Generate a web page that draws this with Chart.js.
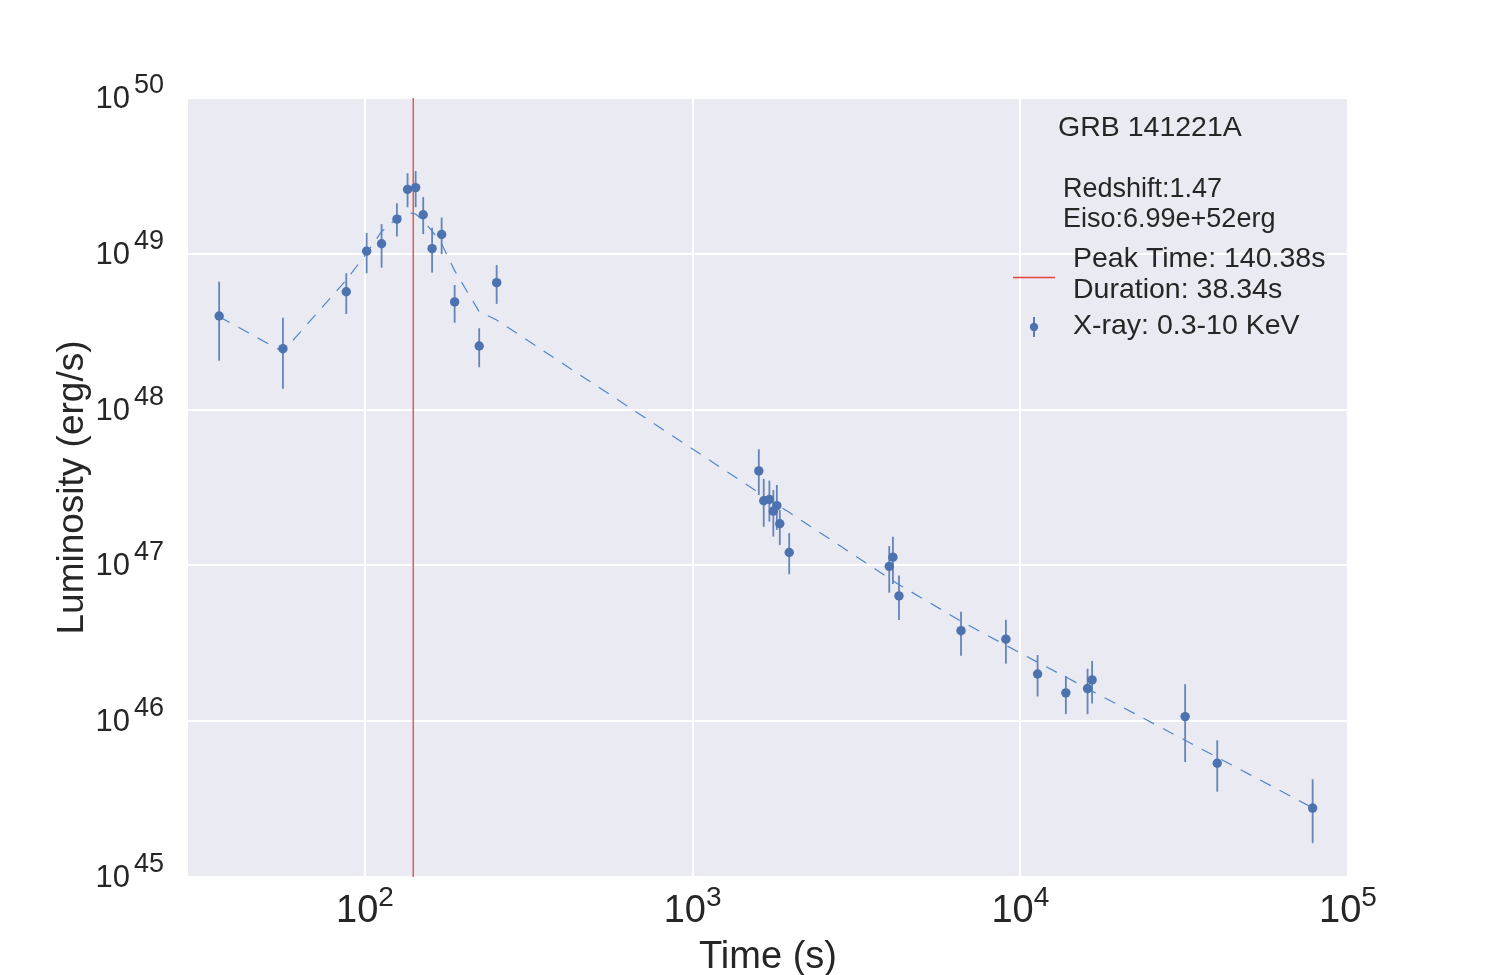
<!DOCTYPE html>
<html>
<head>
<meta charset="utf-8">
<script src="https://cdn.jsdelivr.net/npm/chart.js@4/dist/chart.umd.min.js"></script>
<style>
  body { margin: 0; background: #fff; }
  #wrap { width: 1500px; height: 975px; }
</style>
</head>
<body>
<div id="wrap"><canvas id="lcChart" width="1500" height="975"></canvas></div>
<script>
// GRB 141221A X-ray light curve
const time = [35.9, 56.2, 87.7, 101.2, 112.4, 125.2, 134.9, 142.8, 150.6, 160.3, 171.4, 187.8, 223.2, 252.3,
  1592, 1648, 1715, 1763, 1807, 1845, 1971, 3981, 4085, 4263, 6593, 9036, 11290, 13770, 16040, 16560,
  31840, 39900, 78000];
const lum = [3.99e48, 2.46e48, 5.71e48, 1.04e49, 1.16e49, 1.67e49, 2.59e49, 2.66e49, 1.78e49, 1.08e49, 1.33e49,
  4.91e48, 2.56e48, 6.53e48, 4.04e47, 2.60e47, 2.65e47, 2.23e47, 2.42e47, 1.85e47, 1.21e47, 9.86e46, 1.13e47,
  6.37e46, 3.81e46, 3.36e46, 2.01e46, 1.52e46, 1.62e46, 1.84e46, 1.07e46, 5.37e45, 2.77e45];
const lumHi = [6.62e48, 3.89e48, 7.5e48, 1.36e49, 1.55e49, 2.11e49, 3.29e49, 3.4e49, 2.31e49, 1.47e49, 1.71e49,
  6.31e48, 3.33e48, 8.47e48, 5.56e47, 3.59e47, 3.50e47, 3.05e47, 3.28e47, 2.27e47, 1.61e47, 1.33e47, 1.53e47,
  8.6e46, 5.05e46, 4.47e46, 2.66e46, 1.95e46, 2.17e46, 2.43e46, 1.73e46, 7.54e45, 4.24e45];
const lumLo = [2.06e48, 1.36e48, 4.11e48, 7.5e48, 8.15e48, 1.29e49, 1.99e49, 1.99e49, 1.34e49, 7.57e48, 9.94e48,
  3.61e48, 1.87e48, 4.77e48, 2.83e47, 1.77e47, 1.91e47, 1.53e47, 1.69e47, 1.35e47, 8.77e46, 6.68e46, 7.6e46,
  4.47e46, 2.63e46, 2.34e46, 1.44e46, 1.11e46, 1.11e46, 1.30e46, 5.47e45, 3.53e45, 1.65e45];
// dashed model curve, evaluated at the same times
const fitLum = [3.95e48, 2.35e48, 6.79e48, 1.01e49, 1.39e49, 1.69e49, 1.84e49, 1.80e49, 1.63e49, 1.40e49, 1.16e49,
  7.80e48, 4.25e48, 3.76e48, 2.93e47, 2.80e47, 2.65e47, 2.55e47, 2.46e47, 2.39e47, 2.19e47, 8.27e46, 7.98e46,
  7.52e46, 4.38e46, 3.07e46, 2.39e46, 1.92e46, 1.62e46, 1.56e46, 7.54e45, 5.86e45, 2.78e45];

const peakTime = 140.38;
const xTickExp = [2, 3, 4, 5];
const yTickExp = [45, 46, 47, 48, 49, 50];
const infoLines = ['GRB 141221A', 'Redshift:1.47', 'Eiso:6.99e+52erg'];
const legendLines = ['Peak Time: 140.38s', 'Duration: 38.34s', 'X-ray: 0.3-10 KeV'];

const BLUE = '#4c72b0';
const RED = '#e8443a';
const TXT = '#262626';
const FONT = '"Liberation Sans", Arial, Helvetica, sans-serif';

// "10" with a raised exponent
function drawPow(ctx, x, y, exp, size, supSize, supRise, gap, align) {
  ctx.font = size + 'px ' + FONT;
  const w1 = ctx.measureText('10').width;
  ctx.font = supSize + 'px ' + FONT;
  const w2 = ctx.measureText(String(exp)).width;
  const left = align === 'split' ? x - w1 : x - (w1 + gap + w2) / 2;
  ctx.textAlign = 'left';
  ctx.textBaseline = 'alphabetic';
  ctx.font = size + 'px ' + FONT;
  ctx.fillText('10', left, y);
  ctx.font = supSize + 'px ' + FONT;
  ctx.fillText(String(exp), left + w1 + gap, y - supRise);
}

const decor = {
  id: 'decor',
  beforeDraw(chart) {
    const { ctx, chartArea: a } = chart;
    ctx.save();
    ctx.fillStyle = '#eaeaf2';
    ctx.fillRect(a.left, a.top, a.right - a.left, a.bottom - a.top);
    ctx.restore();
  },
  beforeDatasetsDraw(chart) {
    // error bars, no caps
    const { ctx, scales: { x, y }, chartArea: a } = chart;
    ctx.save();
    ctx.beginPath();
    ctx.rect(a.left, a.top, a.right - a.left, a.bottom - a.top);
    ctx.clip();
    ctx.strokeStyle = 'rgba(76,114,176,0.85)';
    ctx.lineWidth = 1.8;
    for (let i = 0; i < time.length; i++) {
      const px = x.getPixelForValue(time[i]);
      ctx.beginPath();
      ctx.moveTo(px, y.getPixelForValue(lumLo[i]));
      ctx.lineTo(px, y.getPixelForValue(lumHi[i]));
      ctx.stroke();
    }
    ctx.restore();
  },
  afterDraw(chart) {
    const { ctx, scales: { x, y }, chartArea: a } = chart;
    ctx.save();
    ctx.fillStyle = TXT;
    // tick labels
    yTickExp.forEach(e => {
      const py = y.getPixelForValue(Math.pow(10, e));
      drawPow(ctx, 130, py + 10, e, 31, 27, 15, 4, 'split');
    });
    xTickExp.forEach(e => {
      const px = x.getPixelForValue(Math.pow(10, e));
      drawPow(ctx, px, 922, e, 38, 28, 16, 0, 'center');
    });
    // axis titles
    ctx.font = '38px ' + FONT;
    ctx.textAlign = 'center';
    ctx.fillText('Time (s)', (a.left + a.right) / 2, 968);
    ctx.save();
    ctx.translate(83, (a.top + a.bottom) / 2);
    ctx.rotate(-Math.PI / 2);
    ctx.font = '37px ' + FONT;
    ctx.fillText('Luminosity (erg/s)', 0, 0);
    ctx.restore();

    // annotation text
    ctx.textAlign = 'left';
    ctx.fillStyle = TXT;
    ctx.font = '28.5px ' + FONT;
    ctx.fillText(infoLines[0], 1058, 136);
    ctx.font = '27px ' + FONT;
    ctx.fillText(infoLines[1], 1063, 197);
    ctx.fillText(infoLines[2], 1063, 227);

    // legend
    ctx.strokeStyle = RED;
    ctx.lineWidth = 1.3;
    ctx.beginPath();
    ctx.moveTo(1013, 277.5);
    ctx.lineTo(1055, 277.5);
    ctx.stroke();
    ctx.font = '28.5px ' + FONT;
    ctx.fillText(legendLines[0], 1073, 267);
    ctx.fillText(legendLines[1], 1073, 298);
    ctx.strokeStyle = BLUE;
    ctx.lineWidth = 1.8;
    ctx.beginPath();
    ctx.moveTo(1034, 317);
    ctx.lineTo(1034, 337);
    ctx.stroke();
    ctx.fillStyle = BLUE;
    ctx.beginPath();
    ctx.arc(1034, 327, 4.2, 0, Math.PI * 2);
    ctx.fill();
    ctx.fillStyle = TXT;
    ctx.fillText(legendLines[2], 1073, 334);
    ctx.restore();
  }
};

const ctx = document.getElementById('lcChart').getContext('2d');
new Chart(ctx, {
  type: 'scatter',
  data: {
    datasets: [
      {
        label: 'X-ray: 0.3-10 KeV',
        data: time.map((t, i) => ({ x: t, y: lum[i] })),
        backgroundColor: BLUE,
        borderWidth: 0,
        pointRadius: 4.7,
        order: 1
      },
      {
        label: 'model',
        type: 'line',
        data: time.map((t, i) => ({ x: t, y: fitLum[i] })),
        borderColor: '#5087c8',
        borderWidth: 1.2,
        borderDash: [12, 10],
        pointRadius: 0,
        fill: false,
        tension: 0,
        order: 2
      },
      {
        label: 'Peak Time',
        type: 'line',
        data: [{ x: peakTime, y: 1e45 }, { x: peakTime, y: 1e50 }],
        borderColor: RED,
        borderWidth: 1.3,
        pointRadius: 0,
        fill: false,
        order: 3
      }
    ]
  },
  options: {
    responsive: false,
    animation: false,
    devicePixelRatio: 1,
    layout: { padding: { left: 188, top: 98, right: 152, bottom: 98 } },
    scales: {
      x: {
        type: 'logarithmic',
        min: 28.84,
        max: 1e5,
        afterBuildTicks: s => { s.ticks = xTickExp.map(e => ({ value: Math.pow(10, e) })); },
        afterFit: s => { s.height = 0; },
        ticks: { display: false },
        grid: { color: '#ffffff', lineWidth: 2, drawTicks: false },
        border: { display: false }
      },
      y: {
        type: 'logarithmic',
        min: 1e45,
        max: 1e50,
        afterBuildTicks: s => { s.ticks = yTickExp.map(e => ({ value: Math.pow(10, e) })); },
        afterFit: s => { s.width = 0; },
        ticks: { display: false },
        grid: { color: '#ffffff', lineWidth: 2, drawTicks: false },
        border: { display: false }
      }
    },
    plugins: {
      legend: { display: false },
      tooltip: { enabled: false }
    }
  },
  plugins: [decor]
});
</script>
</body>
</html>
